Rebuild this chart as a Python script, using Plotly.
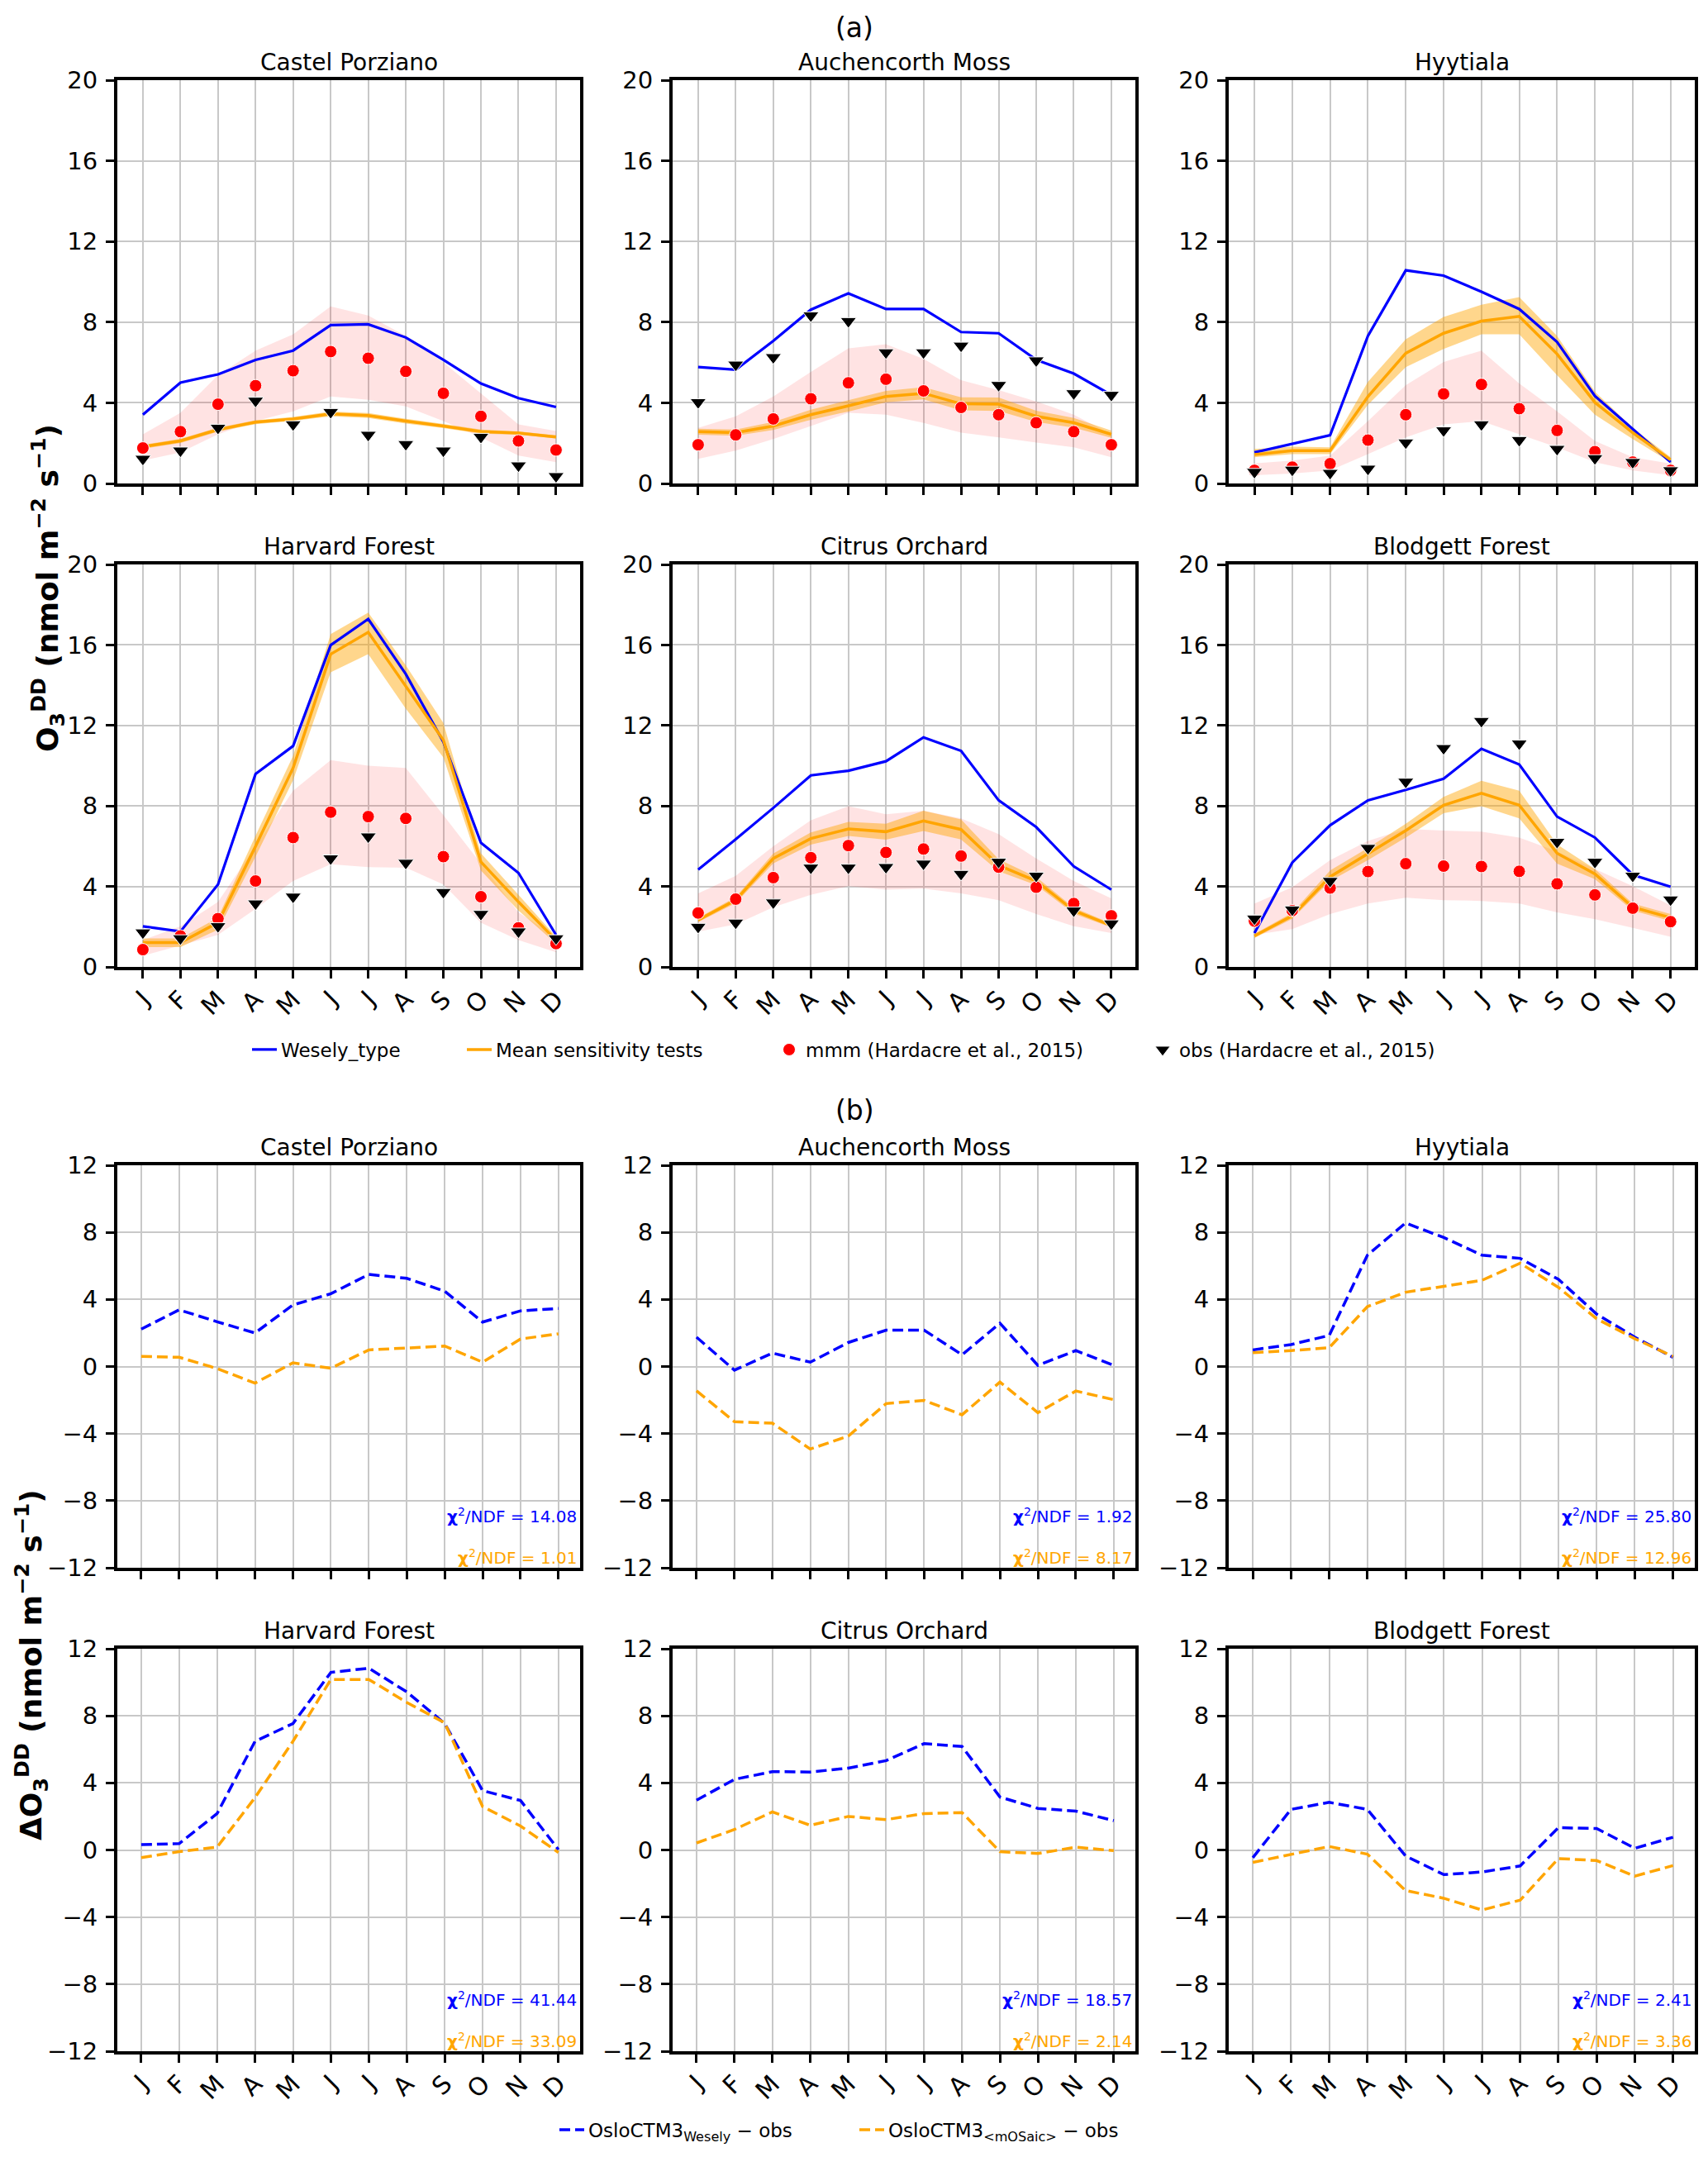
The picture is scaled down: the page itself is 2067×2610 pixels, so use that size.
import plotly.graph_objects as go

W, H = 2067, 2610
FONT = "DejaVu Sans"
BLUE = "#0000ff"
ORANGE = "#ffa500"
RED = "#ff0000"

months = ["J", "F", "M", "A", "M", "J", "J", "A", "S", "O", "N", "D"]
month_idx = list(range(12))
sites = ["Castel Porziano", "Auchencorth Moss", "Hyytiala",
         "Harvard Forest", "Citrus Orchard", "Blodgett Forest"]

# ---------------- part (a): dry deposition flux ----------------
cp_wes = [3.41, 5.0, 5.41, 6.13, 6.59, 7.85, 7.89, 7.24, 6.13, 4.96, 4.23, 3.79]
cp_sens = [1.82, 2.11, 2.67, 3.04, 3.2, 3.45, 3.37, 3.09, 2.85, 2.57, 2.5, 2.31]
cp_sens_lo = [1.72, 2.01, 2.57, 2.94, 3.1, 3.33, 3.25, 2.97, 2.75, 2.47, 2.42, 2.23]
cp_sens_hi = [1.92, 2.21, 2.77, 3.14, 3.3, 3.57, 3.49, 3.21, 2.95, 2.67, 2.58, 2.39]
cp_mmm = [1.76, 2.57, 3.93, 4.85, 5.59, 6.54, 6.21, 5.56, 4.47, 3.33, 2.11, 1.66]
cp_mmm_hi = [2.44, 3.5, 5.37, 6.59, 7.4, 8.78, 8.33, 7.32, 6.0, 4.47, 2.93, 2.6]
cp_mmm_lo = [1.14, 1.54, 2.44, 3.09, 3.58, 4.31, 4.15, 3.82, 3.09, 2.28, 1.38, 1.06]
cp_obs = [1.22, 1.63, 2.76, 4.1, 2.93, 3.54, 2.41, 1.95, 1.63, 2.31, 0.89, 0.36]

am_wes = [5.77, 5.64, 7.07, 8.62, 9.43, 8.65, 8.65, 7.51, 7.45, 6.13, 5.45, 4.39]
am_sens = [2.57, 2.52, 2.85, 3.41, 3.85, 4.31, 4.47, 3.95, 3.93, 3.33, 3.01, 2.44]
am_sens_lo = [2.42, 2.37, 2.65, 3.16, 3.57, 4.03, 4.17, 3.63, 3.6, 3.05, 2.77, 2.26]
am_sens_hi = [2.72, 2.67, 3.05, 3.66, 4.13, 4.59, 4.77, 4.27, 4.26, 3.61, 3.25, 2.62]
am_mmm = [1.92, 2.41, 3.2, 4.2, 4.99, 5.17, 4.59, 3.77, 3.41, 3.01, 2.57, 1.92]
am_mmm_hi = [2.76, 3.33, 4.31, 5.53, 6.7, 6.91, 6.18, 5.12, 4.63, 4.07, 3.41, 2.44]
am_mmm_lo = [1.22, 1.63, 2.2, 2.85, 3.5, 3.41, 3.0, 2.52, 2.28, 2.03, 1.79, 1.3]
am_obs = [4.03, 5.89, 6.26, 8.33, 8.05, 6.5, 6.5, 6.83, 4.88, 6.1, 4.47, 4.39]

hy_wes = [1.54, 1.95, 2.39, 7.32, 10.57, 10.31, 9.51, 8.65, 7.02, 4.34, 2.68, 1.06]
hy_sens = [1.43, 1.63, 1.63, 4.31, 6.46, 7.45, 8.05, 8.29, 6.42, 4.02, 2.52, 1.17]
hy_sens_lo = [1.3, 1.46, 1.46, 3.9, 5.77, 6.67, 7.4, 7.4, 5.37, 3.41, 2.2, 1.06]
hy_sens_hi = [1.71, 1.82, 1.79, 5.04, 7.15, 8.26, 8.86, 9.24, 7.32, 4.55, 2.76, 1.3]
hy_mmm = [0.65, 0.81, 0.98, 2.15, 3.41, 4.44, 4.91, 3.71, 2.63, 1.58, 1.06, 0.65]
hy_mmm_hi = [1.0, 1.14, 1.38, 3.09, 4.88, 6.02, 6.59, 4.96, 3.58, 2.11, 1.3, 0.98]
hy_mmm_lo = [0.41, 0.49, 0.65, 1.46, 2.28, 2.93, 3.09, 2.44, 1.79, 1.06, 0.65, 0.41]
hy_obs = [0.57, 0.68, 0.52, 0.73, 2.03, 2.63, 2.93, 2.15, 1.71, 1.25, 1.06, 0.65]

hf_wes = [2.02, 1.76, 4.1, 9.59, 10.98, 15.99, 17.29, 14.55, 11.18, 6.17, 4.67, 1.59]
hf_sens = [1.21, 1.21, 2.2, 6.0, 9.89, 15.54, 16.63, 13.95, 11.27, 5.22, 3.23, 1.33]
hf_sens_lo = [0.99, 0.99, 1.85, 5.48, 9.28, 14.64, 15.54, 12.83, 10.41, 4.79, 2.8, 1.16]
hf_sens_hi = [1.42, 1.42, 2.45, 6.52, 10.49, 16.54, 17.61, 14.99, 12.13, 5.65, 3.58, 1.5]
hf_mmm = [0.86, 1.54, 2.4, 4.27, 6.43, 7.69, 7.47, 7.38, 5.48, 3.49, 1.94, 1.16]
hf_mmm_hi = [1.33, 2.02, 3.23, 6.0, 8.76, 10.28, 10.0, 9.89, 7.55, 5.13, 2.71, 1.5]
hf_mmm_lo = [0.55, 1.07, 1.59, 2.89, 4.27, 5.1, 4.96, 4.93, 4.1, 2.2, 1.33, 0.73]
hf_obs = [1.71, 1.42, 2.02, 3.15, 3.49, 5.39, 6.48, 5.17, 3.72, 2.63, 1.76, 1.42]

co_wes = [4.84, 6.34, 7.9, 9.52, 9.75, 10.22, 11.41, 10.74, 8.28, 6.95, 5.0, 3.84]
co_sens = [2.33, 3.32, 5.39, 6.38, 6.86, 6.72, 7.26, 6.83, 5.05, 4.27, 2.8, 2.06]
co_sens_lo = [2.23, 3.17, 5.14, 6.08, 6.51, 6.32, 6.76, 6.33, 4.75, 4.07, 2.65, 1.96]
co_sens_hi = [2.43, 3.47, 5.64, 6.68, 7.21, 7.12, 7.76, 7.33, 5.35, 4.47, 2.95, 2.16]
co_mmm = [2.68, 3.37, 4.44, 5.43, 6.03, 5.69, 5.86, 5.51, 4.96, 3.96, 3.15, 2.54]
co_mmm_hi = [3.66, 4.53, 6.0, 7.29, 7.99, 7.59, 7.76, 7.38, 6.6, 5.39, 4.27, 3.41]
co_mmm_lo = [1.76, 2.11, 2.97, 3.58, 4.01, 3.84, 3.89, 3.66, 3.32, 2.63, 2.02, 1.68]
co_obs = [1.99, 2.2, 3.2, 4.93, 4.93, 4.96, 5.13, 4.62, 5.22, 4.53, 2.8, 2.16]

bf_wes = [1.68, 5.19, 7.04, 8.28, 8.8, 9.35, 10.84, 10.06, 7.47, 6.43, 4.58, 3.98]
bf_sens = [1.54, 2.54, 4.48, 5.62, 6.78, 8.04, 8.63, 8.04, 5.65, 4.62, 2.97, 2.45]
bf_sens_lo = [1.44, 2.39, 4.27, 5.31, 6.43, 7.64, 7.99, 7.38, 5.13, 4.36, 2.8, 2.28]
bf_sens_hi = [1.64, 2.69, 4.79, 5.91, 7.12, 8.45, 9.25, 8.76, 6.09, 4.87, 3.15, 2.63]
bf_mmm = [2.28, 2.8, 3.92, 4.74, 5.13, 5.01, 4.99, 4.75, 4.13, 3.58, 2.92, 2.25]
bf_mmm_hi = [3.15, 3.96, 5.31, 6.26, 6.86, 6.78, 6.72, 6.43, 5.74, 4.87, 4.01, 3.06]
bf_mmm_lo = [1.59, 1.88, 2.63, 3.15, 3.44, 3.32, 3.28, 3.15, 2.71, 2.37, 1.94, 1.5]
bf_obs = [2.4, 2.85, 4.27, 5.91, 9.2, 10.87, 12.22, 11.1, 6.21, 5.22, 4.53, 3.35]

# ---------------- part (b): model minus obs ----------------
cp_d_wes = [2.23, 3.38, 2.67, 2.0, 3.67, 4.34, 5.49, 5.26, 4.49, 2.65, 3.32, 3.46]
am_d_wes = [1.75, -0.22, 0.8, 0.26, 1.43, 2.17, 2.17, 0.7, 2.58, 0.07, 0.95, 0.07]
hy_d_wes = [0.99, 1.31, 1.85, 6.64, 8.56, 7.69, 6.64, 6.45, 5.2, 3.13, 1.75, 0.55]
hf_d_wes = [0.32, 0.38, 2.17, 6.48, 7.54, 10.59, 10.84, 9.43, 7.54, 3.54, 2.95, 0.02]
co_d_wes = [2.97, 4.21, 4.67, 4.65, 4.88, 5.33, 6.34, 6.17, 3.16, 2.48, 2.32, 1.75]
bf_d_wes = [-0.46, 2.42, 2.84, 2.42, -0.36, -1.47, -1.31, -0.95, 1.33, 1.28, 0.1, 0.76]

cp_d_mos = [0.6, 0.55, -0.12, -0.99, 0.22, -0.1, 0.99, 1.12, 1.22, 0.26, 1.64, 1.95]
am_d_mos = [-1.45, -3.29, -3.38, -4.92, -4.15, -2.21, -2.02, -2.88, -0.93, -2.75, -1.46, -1.98]
hy_d_mos = [0.83, 0.95, 1.12, 3.57, 4.43, 4.78, 5.14, 6.16, 4.72, 2.85, 1.66, 0.6]
hf_d_mos = [-0.46, -0.1, 0.17, 3.12, 6.48, 10.17, 10.17, 8.8, 7.58, 2.59, 1.43, -0.15]
co_d_mos = [0.42, 1.22, 2.27, 1.47, 2.0, 1.81, 2.17, 2.23, -0.1, -0.21, 0.17, -0.04]
bf_d_mos = [-0.74, -0.25, 0.21, -0.25, -2.42, -2.88, -3.58, -2.99, -0.51, -0.63, -1.56, -0.93]

chi2_wes = ["14.08", "1.92", "25.80", "41.44", "18.57", "2.41"]
chi2_mos = ["1.01", "8.17", "12.96", "33.09", "2.14", "3.36"]

yticks_a = [0, 4, 8, 12, 16, 20]
yticks_b = [-12, -8, -4, 0, 4, 8, 12]

part_a = [
    (cp_wes, cp_sens, cp_sens_lo, cp_sens_hi, cp_mmm, cp_mmm_lo, cp_mmm_hi, cp_obs),
    (am_wes, am_sens, am_sens_lo, am_sens_hi, am_mmm, am_mmm_lo, am_mmm_hi, am_obs),
    (hy_wes, hy_sens, hy_sens_lo, hy_sens_hi, hy_mmm, hy_mmm_lo, hy_mmm_hi, hy_obs),
    (hf_wes, hf_sens, hf_sens_lo, hf_sens_hi, hf_mmm, hf_mmm_lo, hf_mmm_hi, hf_obs),
    (co_wes, co_sens, co_sens_lo, co_sens_hi, co_mmm, co_mmm_lo, co_mmm_hi, co_obs),
    (bf_wes, bf_sens, bf_sens_lo, bf_sens_hi, bf_mmm, bf_mmm_lo, bf_mmm_hi, bf_obs),
]
part_b = [
    (cp_d_wes, cp_d_mos), (am_d_wes, am_d_mos), (hy_d_wes, hy_d_mos),
    (hf_d_wes, hf_d_mos), (co_d_wes, co_d_mos), (bf_d_wes, bf_d_mos),
]

# ---------------- layout geometry (pixels) ----------------
col_px = [(142, 702), (814, 1374), (1487, 2051)]
row_px = [(97, 585), (683, 1170), (1410, 1897), (1995, 2482)]


def xdom(c):
    return [col_px[c][0] / W, col_px[c][1] / W]


def ydom(r):
    return [1 - row_px[r][1] / H, 1 - row_px[r][0] / H]


fig = go.Figure()
layout = dict(
    template="none",
    width=W, height=H, margin=dict(l=0, r=0, t=0, b=0, pad=0, autoexpand=False),
    paper_bgcolor="white", plot_bgcolor="white",
    font=dict(family=FONT, color="black", size=28),
    showlegend=True,
)
annotations = []

xr_a = [-0.68, 11.64]
xr_b = [-0.63, 11.57]

for k in range(12):
    part = 0 if k < 6 else 1
    site = k % 6
    r = (site // 3) + 2 * part
    c = site % 3
    n = k + 1
    xa = "x" if n == 1 else f"x{n}"
    ya = "y" if n == 1 else f"y{n}"
    bottom = (site // 3) == 1
    layout[f"xaxis{n}"] = dict(
        domain=xdom(c), anchor=ya, range=xr_a if part == 0 else xr_b,
        automargin=False,
        tickmode="array", tickvals=month_idx, ticktext=months,
        showticklabels=bottom, tickangle=-45,
        ticks="outside", ticklen=10, tickwidth=3, tickcolor="black",
        showline=True, linewidth=4, linecolor="black", mirror=True,
        showgrid=True, gridcolor="#c8c8c8", gridwidth=2, zeroline=False,
        tickfont=dict(size=30, family=FONT, color="black"),
        ticklabelstandoff=-4,
    )
    layout[f"yaxis{n}"] = dict(
        domain=ydom(r), anchor=xa, automargin=False,
        range=[0, 20] if part == 0 else [-12, 12],
        tickmode="array", tickvals=yticks_a if part == 0 else yticks_b,
        ticks="outside", ticklen=10, tickwidth=3, tickcolor="black",
        showline=True, linewidth=4, linecolor="black", mirror=True,
        showgrid=True, gridcolor="#c8c8c8", gridwidth=2, zeroline=False,
        tickfont=dict(size=29, family=FONT, color="black"),
        ticklabelstandoff=4,
    )
    # subplot title
    annotations.append(dict(
        text=sites[site], xref="paper", yref="paper",
        x=(col_px[c][0] + col_px[c][1]) / 2 / W,
        y=1 - (row_px[r][0] - 22) / H,
        xanchor="center", yanchor="middle", showarrow=False,
        font=dict(size=28, family=FONT, color="black"),
    ))

    first = (site == 0)
    if part == 0:
        wes, sens, s_lo, s_hi, mmm, m_lo, m_hi, obs = part_a[site]
        fig.add_trace(go.Scatter(
            x=month_idx + month_idx[::-1], y=m_hi + m_lo[::-1],
            fill="toself", fillcolor="rgba(255,0,0,0.11)", mode="none",
            line=dict(width=0), showlegend=False, hoverinfo="skip",
            xaxis=xa, yaxis=ya))
        fig.add_trace(go.Scatter(
            x=month_idx + month_idx[::-1], y=s_hi + s_lo[::-1],
            fill="toself", fillcolor="rgba(255,165,0,0.45)", mode="none",
            line=dict(width=0), showlegend=False, hoverinfo="skip",
            xaxis=xa, yaxis=ya))
        fig.add_trace(go.Scatter(
            x=month_idx, y=wes, mode="lines", name="Wesely_type",
            line=dict(color=BLUE, width=3.2), showlegend=first,
            legend="legend", xaxis=xa, yaxis=ya))
        fig.add_trace(go.Scatter(
            x=month_idx, y=sens, mode="lines", name="Mean sensitivity tests",
            line=dict(color=ORANGE, width=3.5), showlegend=first,
            legend="legend2", xaxis=xa, yaxis=ya))
        fig.add_trace(go.Scatter(
            x=month_idx, y=mmm, mode="markers", name="mmm (Hardacre et al., 2015)",
            marker=dict(symbol="circle", size=15, color=RED,
                        line=dict(color="white", width=1)),
            showlegend=first, legend="legend3", xaxis=xa, yaxis=ya))
        fig.add_trace(go.Scatter(
            x=month_idx, y=obs, mode="markers", name="obs (Hardacre et al., 2015)",
            marker=dict(symbol="triangle-down", size=17, color="black",
                        line=dict(color="white", width=1)),
            showlegend=first, legend="legend4", xaxis=xa, yaxis=ya))
    else:
        dw, dm = part_b[site]
        fig.add_trace(go.Scatter(
            x=month_idx, y=dw, mode="lines",
            name="OsloCTM3<sub>Wesely</sub> − obs",
            line=dict(color=BLUE, width=3.5, dash="13px,6px"),
            showlegend=first, legend="legend5", xaxis=xa, yaxis=ya))
        fig.add_trace(go.Scatter(
            x=month_idx, y=dm, mode="lines",
            name="OsloCTM3<sub>&lt;mOSaic&gt;</sub> − obs",
            line=dict(color=ORANGE, width=3.5, dash="13px,6px"),
            showlegend=first, legend="legend6", xaxis=xa, yaxis=ya))
        annotations.append(dict(
            text=f"<b>χ</b><sup>2</sup>/NDF = {chi2_wes[site]}",
            xref=f"{xa} domain", yref=f"{ya} domain", x=0.997, y=0.13,
            xanchor="right", yanchor="middle", showarrow=False,
            font=dict(size=20, family=FONT, color=BLUE)))
        annotations.append(dict(
            text=f"<b>χ</b><sup>2</sup>/NDF = {chi2_mos[site]}",
            xref=f"{xa} domain", yref=f"{ya} domain", x=0.997, y=0.027,
            xanchor="right", yanchor="middle", showarrow=False,
            font=dict(size=20, family=FONT, color=ORANGE)))

# part titles
annotations.append(dict(text="(a)", xref="paper", yref="paper", x=1034 / W,
                        y=1 - 34 / H, xanchor="center", yanchor="middle",
                        showarrow=False, font=dict(size=33, family=FONT)))
annotations.append(dict(text="(b)", xref="paper", yref="paper", x=1034 / W,
                        y=1 - 1343 / H, xanchor="center", yanchor="middle",
                        showarrow=False, font=dict(size=33, family=FONT)))
# y-axis labels
annotations.append(dict(
    text="<b>O<sub>3</sub><sup>DD</sup> (nmol m<sup>−2</sup> s<sup>−1</sup>)</b>",
    xref="paper", yref="paper", x=58 / W, y=1 - 712 / H, textangle=-90,
    xanchor="center", yanchor="middle", showarrow=False,
    font=dict(size=36, family=FONT)))
annotations.append(dict(
    text="<b>ΔO<sub>3</sub><sup>DD</sup> (nmol m<sup>−2</sup> s<sup>−1</sup>)</b>",
    xref="paper", yref="paper", x=38 / W, y=1 - 2015 / H, textangle=-90,
    xanchor="center", yanchor="middle", showarrow=False,
    font=dict(size=36, family=FONT)))

layout["annotations"] = annotations

leg_common = dict(orientation="h", bgcolor="rgba(0,0,0,0)", borderwidth=0,
                  xanchor="left", yanchor="middle",
                  font=dict(size=23, family=FONT, color="black"))
leg_a_y = 1 - 1270 / H
leg_b_y = 1 - 2577 / H
layout["legend"] = dict(leg_common, x=300 / W, y=leg_a_y)
layout["legend2"] = dict(leg_common, x=560 / W, y=leg_a_y)
layout["legend3"] = dict(leg_common, x=935 / W, y=leg_a_y)
layout["legend4"] = dict(leg_common, x=1387 / W, y=leg_a_y)
layout["legend5"] = dict(leg_common, x=672 / W, y=leg_b_y)
layout["legend6"] = dict(leg_common, x=1035 / W, y=leg_b_y)

fig.update_layout(**layout)
fig.write_html(
    "out.html",
    config={"displayModeBar": False},
    post_script="document.body.style.margin='0px';document.body.style.overflow='hidden';",
)
